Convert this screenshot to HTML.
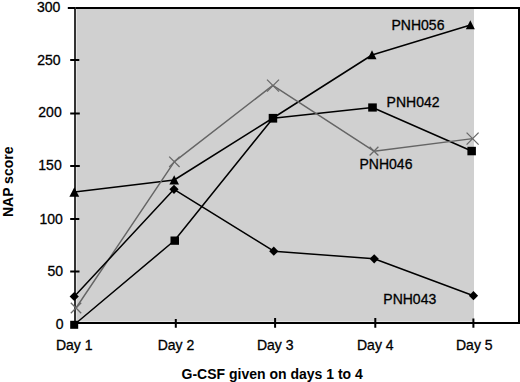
<!DOCTYPE html>
<html><head><meta charset="utf-8">
<style>
html,body{margin:0;padding:0;background:#fff;}
body{width:520px;height:382px;overflow:hidden;}
svg{display:block;}
text{font-family:"Liberation Sans",sans-serif;fill:#000;}
.t{stroke:#000;stroke-width:0.3px;}
</style></head><body>
<svg width="520" height="382" viewBox="0 0 520 382" xmlns="http://www.w3.org/2000/svg">
<!-- plot background -->
<rect x="75" y="8" width="399" height="315" fill="#d0d0d0"/>
<!-- light halos next to axes -->
<rect x="76" y="9" width="1" height="312" fill="#e2e2e2"/>
<rect x="77" y="321" width="397" height="1" fill="#e2e2e2"/>
<!-- frame -->
<path d="M74 8 H519 V323 H74" fill="none" stroke="#000" stroke-width="2"/>
<path d="M75 7 V324" fill="none" stroke="#333" stroke-width="2"/>
<!-- y ticks -->
<g stroke="#000" stroke-width="2">
<path d="M67.8 8H75"/>
<path d="M70.2 60H79.3M70.2 113.5H79.8M70.2 166H79.8M70.2 219H79.3M70.2 271.5H79.5"/>
<path d="M175.8 319V327.8M275.1 318V327.8M375.3 318V327.8M473.4 318.5V327.8"/>
</g>
<!-- y labels -->
<g font-size="14" text-anchor="end" class="t">
<text x="60.3" y="11.5">300</text>
<text x="60.6" y="64.8">250</text>
<text x="61.7" y="117.2">200</text>
<text x="61.7" y="170.4">150</text>
<text x="62.9" y="223.6">100</text>
<text x="63.1" y="276.3">50</text>
<text x="63.6" y="328.8">0</text>
</g>
<!-- x labels -->
<g font-size="14" text-anchor="middle" class="t">
<text x="74.2" y="350">Day 1</text>
<text x="176" y="350">Day 2</text>
<text x="275.2" y="350">Day 3</text>
<text x="375.3" y="350">Day 4</text>
<text x="474.3" y="350">Day 5</text>
</g>
<text x="272.2" y="379" font-size="14" font-weight="bold" text-anchor="middle">G-CSF given on days 1 to 4</text>
<text transform="translate(12.6 181.8) rotate(-90)" font-size="14" font-weight="bold" text-anchor="middle">NAP score</text>

<!-- series lines -->
<g fill="none" stroke-linejoin="round">
<polyline stroke="#000" stroke-width="1.5" points="74.5,192 174.2,180 273,118 372,55 470.5,25"/>
<polyline stroke="#000" stroke-width="1.5" points="74.5,324.5 174.5,240.5 273,118.2 372.5,107.5 471.6,151"/>
<polyline stroke="#656565" stroke-width="1.45" points="76,308 174.4,161.6 272.8,85.4 374,151.2 472.6,138.6"/>
<polyline stroke="#000" stroke-width="1.5" points="74.3,296.5 174,189.3 273.8,251.2 374.2,258.8 473.5,295.7"/>
</g>
<!-- markers -->
<g fill="#000">
<!-- triangles -->
<path d="M74.3 187.3L79.2 196.8H69.4Z"/>
<path d="M174.2 175.3L179 184.5H169.4Z"/>
<path d="M372 50.3L376.5 59.3H367.5Z"/>
<path d="M470.3 20.3L474.8 29.3H465.8Z"/>
<!-- squares -->
<rect x="70.2" y="320.8" width="8" height="8"/>
<rect x="170.5" y="236.5" width="8.5" height="8.3"/>
<rect x="268.7" y="113.9" width="8.5" height="8.7"/>
<rect x="368.2" y="103.4" width="8.6" height="8.2"/>
<rect x="467.4" y="146.8" width="8.5" height="8.5"/>
<!-- diamonds -->
<path d="M74.2 291.9L78.8 296.5L74.2 301.1L69.6 296.5Z"/>
<path d="M174 184.7L178.6 189.3L174 193.9L169.4 189.3Z"/>
<path d="M273.8 246.6L278.4 251.2L273.8 255.8L269.2 251.2Z"/>
<path d="M374.2 254.2L378.8 258.8L374.2 263.4L369.6 258.8Z"/>
<path d="M473.5 291.1L478.1 295.7L473.5 300.3L468.9 295.7Z"/>
</g>
<!-- X markers -->
<g stroke="#6a6a6a" stroke-width="1.3" fill="none">
<path d="M70.8 302.8L81.2 313.2M81.2 302.8L70.8 313.2"/>
<path d="M169.2 156.6L179.6 167M179.6 156.6L169.2 167"/>
<path d="M267 79.6L279 91.6M279 79.6L267 91.6"/>
<path d="M369.6 146.7L378.4 155.5M378.4 146.7L369.6 155.5"/>
<path d="M466.6 132.6L478.6 144.6M478.6 132.6L466.6 144.6"/>
</g>
<!-- series labels -->
<g font-size="14" class="t">
<text x="391.5" y="30">PNH056</text>
<text x="386.6" y="107">PNH042</text>
<text x="359.5" y="168.8">PNH046</text>
<text x="383.3" y="304.3">PNH043</text>
</g>
</svg>
</body></html>
